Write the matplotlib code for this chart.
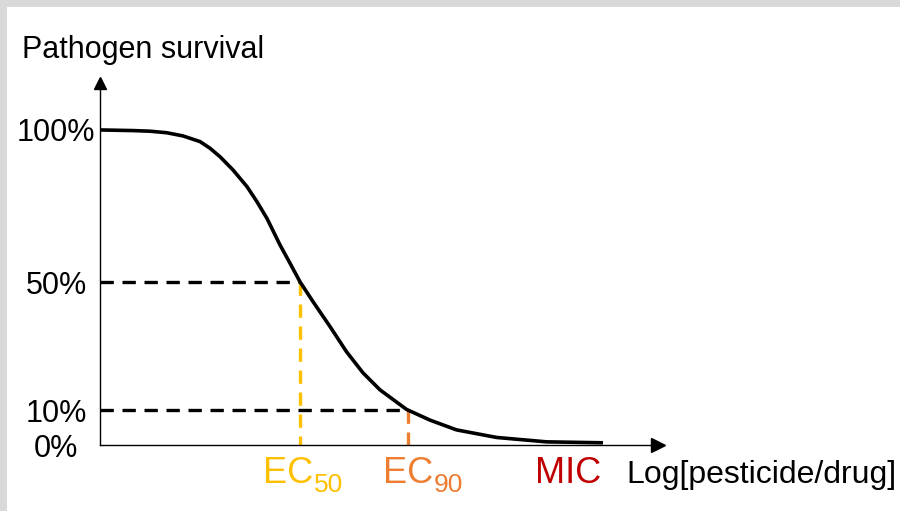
import matplotlib.pyplot as plt
from matplotlib.patches import Rectangle

plt.rcParams['font.family'] = ['Liberation Sans', 'DejaVu Sans']

# dose-response curve (x: log dose units, y: survival scale)
log_dose = [0.0, 0.66, 1.0, 1.34, 1.66, 2.0, 2.2, 2.4, 2.66, 2.94, 3.14, 3.34,
            3.6, 3.8, 4.0, 4.26, 4.6, 4.93, 5.26, 5.6, 6.13, 6.6, 7.13, 7.93,
            8.93, 10.06]
survival = [100.0, 99.8, 99.6, 99.1, 98.1, 96.3, 94.2, 91.5, 87.3, 82.0, 77.2,
            71.9, 63.5, 57.7, 51.8, 45.5, 37.6, 29.6, 22.9, 17.5, 11.3, 7.9,
            4.8, 2.4, 1.0, 0.7]

ec50_x, ec50_y = 4.0, 51.7
ec90_x, ec90_y = 6.16, 11.1
mic_x = 9.36

ytick_vals = [0, 11.1, 51.7, 100]
ytick_labels = ['0%', '10%', '50%', '100%']

YELLOW = '#ffc000'
ORANGE = '#ed7d31'
RED = '#c00000'

W, H = 900, 511
fig = plt.figure(figsize=(9, 5.11), dpi=100)
fig.patch.set_facecolor('#d9d9d9')
fig.patches.append(Rectangle((7 / W, 0), 1, 1 - 7 / H, transform=fig.transFigure,
                             facecolor='white', edgecolor='none', zorder=-10))

ax = fig.add_axes([100 / W, 1 - 445 / H, 558 / W, 362 / H])
ax.set_facecolor('none')
ax.set_xlim(0, 11.16)
ax.set_ylim(0, 114.9)
for s in ['top', 'right']:
    ax.spines[s].set_visible(False)
for s in ['left', 'bottom']:
    ax.spines[s].set_linewidth(1.0)
    ax.spines[s].set_color('black')

# arrow heads
ax.plot([0], [114.9], marker='^', ms=8.8, color='black', clip_on=False, zorder=5)
ax.plot([11.16], [0], marker='>', ms=9.6, color='black', clip_on=False, zorder=5)

ax.set_xticks([])
ax.set_yticks(ytick_vals, ytick_labels)
ax.tick_params(axis='y', length=0, pad=31.7, labelsize=22)
for lbl in ax.get_yticklabels():
    lbl.set_horizontalalignment('center')

dash = (4, 2.6)
ax.plot([0, ec50_x], [ec50_y, ec50_y], color='black', lw=2.4, dashes=dash)
ax.plot([0, ec90_x], [ec90_y, ec90_y], color='black', lw=2.4, dashes=dash)
ax.plot([ec50_x, ec50_x], [ec50_y, 0], color=YELLOW, lw=2.4, dashes=dash)
ax.plot([ec90_x, ec90_x], [ec90_y, 0], color=ORANGE, lw=2.4, dashes=dash)

ax.plot(log_dose, survival, color='black', lw=2.6, solid_capstyle='butt',
        solid_joinstyle='round', zorder=4)


def x_label(x, main, sub, dx, sub_dx, color):
    ax.annotate(main, xy=(x, 0), xytext=(dx, -27.4), textcoords='offset points',
                ha='left', va='baseline', fontsize=26, color=color, annotation_clip=False)
    if sub:
        ax.annotate(sub, xy=(x, 0), xytext=(sub_dx, -33.8), textcoords='offset points',
                    ha='left', va='baseline', fontsize=19, color=color, annotation_clip=False)


x_label(ec50_x, 'EC', '50', -26.6, 10.4, YELLOW)
x_label(ec90_x, 'EC', '90', -18, 18.6, ORANGE)
ax.annotate('MIC', xy=(mic_x, 0), xytext=(0, -27.4), textcoords='offset points',
            ha='center', va='baseline', fontsize=26, color=RED, annotation_clip=False)

fig.text(626 / W, 1 - 483 / H, 'Log[pesticide/drug]', ha='left', va='baseline', fontsize=23)
fig.text(22 / W, 1 - 58 / H, 'Pathogen survival', ha='left', va='baseline', fontsize=22)

fig.savefig('out.png', dpi=100, facecolor=fig.get_facecolor())
